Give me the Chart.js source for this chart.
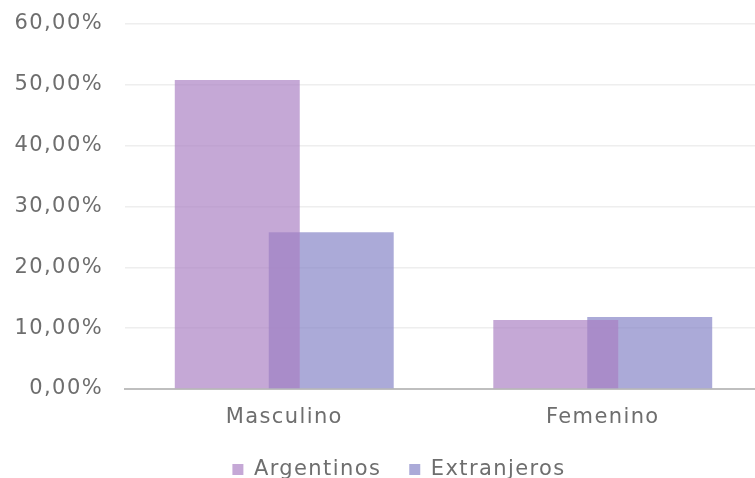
<!DOCTYPE html>
<html>
<head>
<meta charset="utf-8">
<script src="https://cdn.jsdelivr.net/npm/chart.js@4"></script>
<style>
  html, body { margin: 0; padding: 0; background: #fff; overflow: hidden; }
  /* a bit wider than the window: the plot area runs past the right edge in the original */
  #wrap { width: 762px; height: 478px; }
</style>
</head>
<body>
<div id="wrap"><canvas id="chart"></canvas></div>
<script>
// values (percent)
const categories = ['Masculino', 'Femenino'];
const argentinos = [50.8, 11.35];
const extranjeros = [25.75, 11.85];
const seriesNames = ['Argentinos', 'Extranjeros'];

const textColor = '#6e6e6e';
const fontFamily = "'DejaVu Sans', sans-serif";
const labelFont = { family: fontFamily, size: 21 };
const spacing = '1.4px';

function formatPct(v) {
  return Number(v).toFixed(2).replace('.', ',') + '%';
}

// wide text + legend placement tweaks
const tweaksPlugin = {
  id: 'tweaks',
  beforeInit(chart) {
    // legend is created in its start hook, trim its height afterwards
    const legend = chart.legend;
    const fit = legend.fit;
    legend.fit = function () {
      fit.call(this);
      this.height = 47;
    };
  },
  beforeUpdate(chart) { chart.ctx.letterSpacing = spacing; },
  beforeLayout(chart) { chart.ctx.letterSpacing = spacing; },
  afterLayout(chart) {
    // original legend sits a little right of centre
    chart.legend.left += 18;
    chart.legend.right += 18;
  },
  beforeDraw(chart) { chart.ctx.letterSpacing = spacing; },
};

document.addEventListener('DOMContentLoaded', () => {
  const ctx = document.getElementById('chart').getContext('2d');
  new Chart(ctx, {
    type: 'bar',
    data: {
      labels: categories,
      datasets: [
        {
          label: seriesNames[0],
          data: argentinos,
          backgroundColor: 'rgba(170, 127, 195, 0.68)',
          borderWidth: 0,
        },
        {
          label: seriesNames[1],
          data: extranjeros,
          backgroundColor: 'rgba(131, 130, 198, 0.68)',
          borderWidth: 0,
        },
      ],
    },
    plugins: [tweaksPlugin],
    options: {
      responsive: true,
      maintainAspectRatio: false,
      animation: false,
      // bars wider than their slot so they overlap like the original
      categoryPercentage: 0.59,
      barPercentage: 1.33,
      layout: { padding: { top: 24, right: 0, left: 0, bottom: 0 } },
      plugins: {
        legend: {
          position: 'bottom',
          labels: {
            color: textColor,
            font: labelFont,
            boxWidth: 11,
            boxHeight: 11,
            padding: 28,
          },
        },
        tooltip: { enabled: false },
      },
      scales: {
        x: {
          grid: { display: false, drawTicks: false },
          border: { display: true, color: '#bfbfbf', width: 2 },
          ticks: {
            color: textColor,
            font: labelFont,
            padding: 16,
          },
          afterFit: (scale) => { scale.height = 42; },
        },
        y: {
          min: 0,
          max: 60,
          ticks: {
            stepSize: 10,
            color: textColor,
            font: labelFont,
            padding: 0,
            callback: (v) => formatPct(v),
          },
          // invisible tick marks give the gap between labels and plot
          grid: { color: '#eeeeee', lineWidth: 1.5, drawTicks: true, tickLength: 22, tickColor: 'rgba(0,0,0,0)' },
          border: { display: false },
          afterFit: (scale) => { scale.width = 125; },
        },
      },
    },
  });
});
</script>
</body>
</html>
